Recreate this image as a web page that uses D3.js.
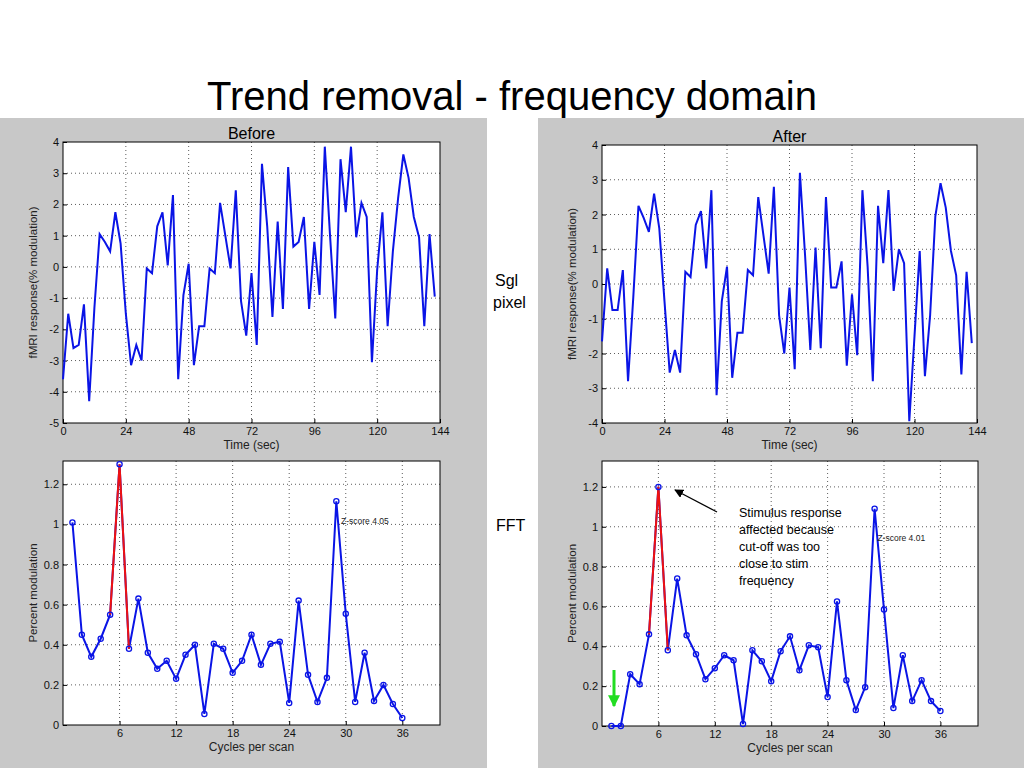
<!DOCTYPE html><html><head><meta charset="utf-8"><script src="https://cdn.jsdelivr.net/npm/d3@7"></script>
<style>body{margin:0;background:#fff}svg{font-family:"Liberation Sans",Arial,sans-serif}</style></head><body><svg id="c" width="1024" height="768"></svg>
<script>
const timeTicks=[0,24,48,72,96,120,144];
const beforeTS=[-3.6,-1.5,-2.6,-2.5,-1.2,-4.3,-1.3,1.05,0.8,0.5,1.75,0.75,-1.5,-3.15,-2.5,-3.0,-0.05,-0.2,1.3,1.75,0.05,2.3,-3.6,-0.9,0.1,-3.15,-1.9,-1.9,-0.05,-0.2,2.05,1.0,-0.05,2.45,-1.1,-2.2,-0.2,-2.5,3.3,1.3,-1.6,1.45,-1.35,3.2,0.65,0.8,1.6,-1.35,0.8,-0.9,3.85,1.0,-1.65,3.45,1.75,3.85,0.95,2.05,1.6,-3.05,-0.1,1.75,-1.9,0.5,2.2,3.6,2.85,1.6,0.95,-1.9,1.05,-0.95];
const afterTS=[-1.65,0.45,-0.75,-0.75,0.4,-2.8,-0.4,2.25,1.9,1.5,2.6,1.6,-0.5,-2.55,-1.9,-2.55,0.35,0.2,1.7,2.1,0.45,2.7,-3.2,-0.5,0.5,-2.7,-1.4,-1.4,0.4,0.25,2.5,1.4,0.3,2.8,-0.9,-2.0,-0.1,-2.45,3.2,0.8,-1.9,1.05,-1.85,2.5,-0.1,-0.1,0.65,-2.35,-0.3,-2.05,2.7,0.5,-2.8,2.25,0.6,2.7,-0.2,1.0,0.6,-3.95,-1.5,0.95,-2.65,-0.9,1.95,2.9,2.2,0.95,0.25,-2.6,0.35,-1.7];
const cycleTicks=[6,12,18,24,30,36];
const beforeFFT=[1.01,0.45,0.34,0.43,0.55,1.30,0.38,0.63,0.36,0.28,0.32,0.23,0.35,0.40,0.055,0.405,0.38,0.26,0.32,0.45,0.30,0.405,0.415,0.11,0.62,0.25,0.115,0.235,1.115,0.555,0.115,0.36,0.12,0.20,0.105,0.035];
const afterFFT=[0,0,0.26,0.21,0.46,1.20,0.38,0.74,0.455,0.36,0.235,0.29,0.355,0.33,0.01,0.38,0.325,0.225,0.375,0.45,0.28,0.405,0.395,0.145,0.625,0.23,0.08,0.195,1.09,0.585,0.09,0.355,0.125,0.23,0.125,0.075];
const svg=d3.select("#c");
svg.append("rect").attr("x",0).attr("y",118).attr("width",487).attr("height",650).attr("fill","#c8c8c8");
svg.append("rect").attr("x",538).attr("y",118).attr("width",486).attr("height",650).attr("fill","#c8c8c8");
svg.append("text").attr("x",512).attr("y",110).attr("text-anchor","middle").attr("font-size",40).text("Trend removal - frequency domain");
svg.append("text").attr("x",495).attr("y",286).attr("font-size",16).text("Sgl");
svg.append("text").attr("x",493).attr("y",308).attr("font-size",16).text("pixel");
svg.append("text").attr("x",496).attr("y",531).attr("font-size",16).text("FFT");

function panel(o){
  const g=svg.append("g");
  const x=d3.scaleLinear().domain(o.xd).range([o.x0,o.x1]);
  const y=d3.scaleLinear().domain(o.yd).range([o.y1,o.y0]);
  g.append("rect").attr("x",o.x0).attr("y",o.y0).attr("width",o.x1-o.x0).attr("height",o.y1-o.y0).attr("fill","#fff");
  const grid=g.append("g").attr("stroke","#333").attr("stroke-width",0.8).attr("stroke-dasharray","1,3");
  o.xt.forEach(t=>{if(t>o.xd[0]&&t<o.xd[1])grid.append("line").attr("x1",x(t)).attr("x2",x(t)).attr("y1",o.y0).attr("y2",o.y1);});
  o.yt.forEach(t=>{if(t>o.yd[0]&&t<o.yd[1])grid.append("line").attr("y1",y(t)).attr("y2",y(t)).attr("x1",o.x0).attr("x2",o.x1);});
  const xa=g.append("g").attr("transform",`translate(0,${o.y1})`).call(d3.axisBottom(x).tickValues(o.xt).tickSize(-4).tickPadding(4).tickFormat(d3.format("d")));
  const ya=g.append("g").attr("transform",`translate(${o.x0},0)`).call(d3.axisLeft(y).tickValues(o.yt).tickSize(-4).tickPadding(4).tickFormat(d=>String(+d.toFixed(1))));
  [xa,ya].forEach(a=>{a.selectAll("text").attr("font-size",11).attr("fill","#111").attr("font-family","Liberation Sans,Arial");a.select(".domain").remove();});
  g.append("rect").attr("x",o.x0).attr("y",o.y0).attr("width",o.x1-o.x0).attr("height",o.y1-o.y0).attr("fill","none").attr("stroke","#000");
  g.append("text").attr("x",(o.x0+o.x1)/2).attr("y",o.y1+26).attr("text-anchor","middle").attr("font-size",12).attr("fill","#222").text(o.xl);
  g.append("text").attr("transform",`translate(${o.x0-26},${(o.y0+o.y1)/2}) rotate(-90)`).attr("text-anchor","middle").attr("font-size",11.5).attr("fill","#222").text(o.yl);
  if(o.title)g.append("text").attr("x",(o.x0+o.x1)/2).attr("y",o.y0-3).attr("text-anchor","middle").attr("font-size",16).text(o.title);
  const pts=o.data.map((v,i)=>[o.fx(i),v]);
  const line=d3.line().x(d=>x(d[0])).y(d=>y(d[1]));
  g.append("path").attr("d",line(pts)).attr("fill","none").attr("stroke","#0a14e6").attr("stroke-width",2);
  if(o.red){g.append("path").attr("d",line(pts.slice(o.red[0],o.red[1]+1))).attr("fill","none").attr("stroke","#ee1111").attr("stroke-width",2);}
  if(o.markers)g.selectAll("circle.m").data(pts).join("circle").attr("cx",d=>x(d[0])).attr("cy",d=>y(d[1])).attr("r",2.6).attr("fill","none").attr("stroke","#0a14e6").attr("stroke-width",1.3);
  return {x,y,g};
}
panel({x0:63,x1:440,y0:142,y1:423,xd:[0,144],yd:[-5,4],xt:timeTicks,yt:d3.range(-5,5),data:beforeTS,fx:i=>i*2,xl:"Time (sec)",yl:"fMRI response(% modulation)",title:"Before"});
panel({x0:602,x1:977,y0:145,y1:423,xd:[0,144],yd:[-4,4],xt:timeTicks,yt:d3.range(-4,5),data:afterTS,fx:i=>i*2,xl:"Time (sec)",yl:"fMRI response(% modulation)",title:"After"});
const b=panel({x0:63,x1:440,y0:461,y1:725,xd:[0,40],yd:[0,1.316],xt:cycleTicks,yt:[0,0.2,0.4,0.6,0.8,1,1.2],data:beforeFFT,fx:i=>i+1,xl:"Cycles per scan",yl:"Percent modulation",red:[4,6],markers:true});
b.g.append("text").attr("x",b.x(29.5)).attr("y",b.y(1.0)).attr("font-size",8.5).attr("fill","#222").text("Z-score 4.05");
const a=panel({x0:602,x1:978,y0:461,y1:726,xd:[0,40],yd:[0,1.33],xt:cycleTicks,yt:[0,0.2,0.4,0.6,0.8,1,1.2],data:afterFFT,fx:i=>i+1,xl:"Cycles per scan",yl:"Percent modulation",red:[4,6],markers:true});
a.g.append("text").attr("x",a.x(29.3)).attr("y",a.y(0.93)).attr("font-size",8.5).attr("fill","#222").text("Z-score 4.01");
const ann=["Stimulus response","affected because","cut-off was too","close to stim","frequency"];
ann.forEach((t,i)=>a.g.append("text").attr("x",739).attr("y",517+i*17).attr("font-size",12.5).text(t));
const defs=svg.append("defs");
defs.append("marker").attr("id","ah").attr("viewBox","0 0 10 10").attr("refX",9).attr("refY",5).attr("markerWidth",7).attr("markerHeight",7).attr("orient","auto").append("path").attr("d","M0,0L10,5L0,10z").attr("fill","#000");
defs.append("marker").attr("id","gh").attr("viewBox","0 0 10 10").attr("refX",9).attr("refY",5).attr("markerWidth",4).attr("markerHeight",4).attr("orient","auto").append("path").attr("d","M0,0L10,5L0,10z").attr("fill","#22dd22");
svg.append("line").attr("x1",717).attr("y1",512).attr("x2",675).attr("y2",490).attr("stroke","#000").attr("stroke-width",1.3).attr("marker-end","url(#ah)");
svg.append("line").attr("x1",614).attr("y1",670).attr("x2",614).attr("y2",706).attr("stroke","#22dd22").attr("stroke-width",3).attr("marker-end","url(#gh)");
</script></body></html>
